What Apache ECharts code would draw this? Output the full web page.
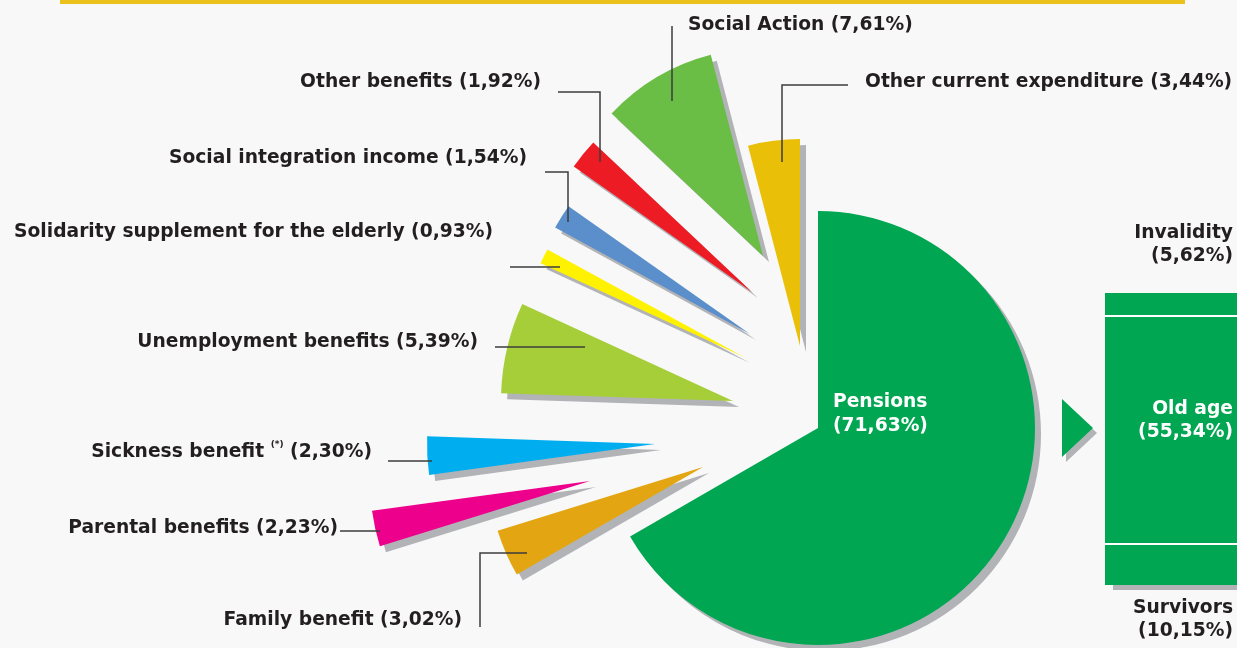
<!DOCTYPE html>
<html>
<head>
<meta charset="utf-8">
<script src="https://cdn.jsdelivr.net/npm/echarts@6/dist/echarts.min.js"></script>
<style>
html,body{margin:0;padding:0;background:#f8f8f8;}
#c{width:1237px;height:648px;}
</style>
</head>
<body>
<div id="c"></div>
<script>
// ---------- DATA ----------
const sliceNames = ['Family benefit', 'Parental benefits', 'Sickness benefit', 'Unemployment benefits',
  'Solidarity supplement for the elderly', 'Social integration income', 'Other benefits',
  'Social Action', 'Other current expenditure'];
const sliceValues = [3.02, 2.23, 2.30, 5.39, 0.93, 1.54, 1.92, 7.61, 3.44];
const sliceNotes = ['', '', '(*)', '', '', '', '', '', ''];
const pensionName = 'Pensions';
const pensionValue = 71.63;
const pensionPartNames = ['Invalidity', 'Old age', 'Survivors'];
const pensionPartValues = [5.62, 55.34, 10.15];

// ---------- STYLE / LAYOUT ----------
const sliceColors = ['#E3A612', '#EC008C', '#00AEEF', '#A6CE39', '#FFF200', '#5B8FCB', '#ED1C24', '#6ABD45', '#E9BF08'];
const GREEN = '#00A651';
const TXT = '#231f20';
const FONT = 'DejaVu Sans';
const FS = 18.7;
const pieCenter = [818, 428];
const pensionRadius = 217;
// explode offsets of every small slice from the pie centre (layout)
const explode = [[-115, 39], [-228, 53], [-163, 16], [-85, -27], [-74, -71], [-68, -94], [-66, -136], [-55, -172], [-18, -82]];
const sliceRadius = [215, 220, 228, 232, 224, 222, 218, 208, 207];
const labelSpec = [
  {x: 462, y: 620, align: 'right', line: [[527, 553], [480, 553], [480, 627]]},
  {x: 338, y: 528, align: 'right', line: [[380, 531], [360, 531], [340, 531]]},
  {x: 372, y: 452, align: 'right', line: [[432, 461], [410, 461], [388, 461]]},
  {x: 478, y: 342, align: 'right', line: [[585, 347], [540, 347], [495, 347]]},
  {x: 493, y: 232, align: 'right', line: [[560, 267], [535, 267], [510, 267]]},
  {x: 527, y: 158, align: 'right', line: [[568, 222], [568, 172], [545, 172]]},
  {x: 541, y: 82, align: 'right', line: [[600, 162], [600, 92], [558, 92]]},
  {x: 688, y: 25, align: 'left', line: [[672, 101], [672, 26], [672, 26]]},
  {x: 865, y: 82, align: 'left', line: [[782, 162], [782, 85], [848, 85]]}
];
const barLabelY = [245, 421, 620];
const barLabelColor = [TXT, '#ffffff', TXT];

const shadow = {shadowColor: '#b2b3b7', shadowBlur: 0, shadowOffsetX: 6, shadowOffsetY: 6};
const fmt = v => v.toFixed(2).replace('.', ',');
const NONE = 'rgba(0,0,0,0)';

const chart = echarts.init(document.getElementById('c'), null, {renderer: 'canvas'});

const series = [];
const pieCommon = {type: 'pie', clockwise: true, silent: true, selectedMode: false, animation: false,
  emphasis: {disabled: true}, avoidLabelOverlap: false};

// Pensions slice
series.push(Object.assign({}, pieCommon, {
  center: pieCenter, radius: [0, pensionRadius],
  startAngle: 90, endAngle: -150,
  itemStyle: Object.assign({color: GREEN, borderWidth: 0}, shadow),
  data: [{name: pensionName, value: pensionValue}],
  label: {show: true, position: 'inside', overflow: 'none',
    formatter: p => p.name + '\n(' + fmt(p.value) + '%)',
    color: '#ffffff', fontFamily: FONT, fontWeight: 'bold', fontSize: FS, lineHeight: 24},
  labelLine: {show: false},
  labelLayout: {x: 833, y: 414, align: 'left', verticalAlign: 'middle'}
}));

// Small slices: each in its own exploded pie (same angular scale), only one visible
sliceNames.forEach((nm, i) => {
  series.push(Object.assign({}, pieCommon, {
    center: [pieCenter[0] + explode[i][0], pieCenter[1] + explode[i][1]],
    radius: [0, sliceRadius[i]],
    startAngle: 210, endAngle: 90, z: 2,
    data: sliceNames.map((n, j) => ({
      name: n, value: sliceValues[j],
      itemStyle: j === i ? Object.assign({color: sliceColors[j], borderWidth: 0}, shadow)
                         : {color: NONE, borderWidth: 0}
    })),
    label: {show: false},
    labelLine: {show: false}
  }));
});

// Labels + leader lines of the small slices, drawn above the slices
series.push(Object.assign({}, pieCommon, {
  center: pieCenter, radius: [0, 150], startAngle: 210, endAngle: 90, z: 5,
  data: sliceNames.map((n, j) => ({name: n, value: sliceValues[j]})),
  itemStyle: {color: NONE, borderWidth: 0},
  label: {
    show: true, position: 'outside', overflow: 'none',
    formatter: p => {
      const note = sliceNotes[p.dataIndex] ? ' {sup|' + sliceNotes[p.dataIndex] + '}' : '';
      return p.name + note + ' (' + fmt(p.value) + '%)';
    },
    color: TXT, fontFamily: FONT, fontWeight: 'bold', fontSize: FS, lineHeight: 24,
    rich: {sup: {fontSize: 9, fontFamily: FONT, fontWeight: 'bold', color: TXT, verticalAlign: 'top', lineHeight: 14}}
  },
  labelLine: {show: true, lineStyle: {color: '#3c3c3c', width: 1.5}},
  labelLayout: params => {
    const s = labelSpec[params.dataIndex];
    return {x: s.x, y: s.y, align: s.align, verticalAlign: 'middle', labelLinePoints: s.line};
  }
}));

// Pensions breakdown: stacked bar (bottom to top: Survivors, Old age, Invalidity)
const partTotal = pensionPartValues.reduce((a, b) => a + b, 0);
const cut1 = pensionPartValues[2];
const cut2 = pensionPartValues[2] + pensionPartValues[1];
[2, 1, 0].forEach(k => {
  const s = {
    type: 'bar', stack: 'pens', name: pensionPartNames[k], barWidth: '100%',
    silent: true, animation: false, z: 2,
    data: [pensionPartValues[k]],
    itemStyle: Object.assign({color: GREEN, borderWidth: 0},
      k === 2 ? {shadowColor: '#b2b3b7', shadowBlur: 0, shadowOffsetX: 8, shadowOffsetY: 5} : {}),
    label: {show: true, position: 'inside', overflow: 'none',
      formatter: p => p.seriesName + '\n(' + fmt(p.value) + '%)',
      color: barLabelColor[k], fontFamily: FONT, fontWeight: 'bold', fontSize: FS, lineHeight: 23, align: 'right'},
    labelLayout: {x: 1233, y: barLabelY[k], align: 'right', verticalAlign: 'middle'}
  };
  if (k === 0) {
    s.markLine = {silent: true, symbol: 'none', animation: false, z: 6,
      label: {show: false},
      lineStyle: {color: '#ffffff', width: 2, type: 'solid'},
      data: [{yAxis: cut1}, {yAxis: cut2}]};
  }
  series.push(s);
});

chart.setOption({
  backgroundColor: '#f8f8f8',
  animation: false,
  grid: {left: 1105, right: 0, top: 293, bottom: 63},
  xAxis: {type: 'category', data: [pensionName], show: false},
  yAxis: {type: 'value', min: 0, max: partTotal, show: false},
  graphic: [
    {type: 'rect', shape: {x: 60, y: 0, width: 1125, height: 4}, style: {fill: '#EBC21C'}, silent: true},
    {type: 'polygon', shape: {points: [[1062, 399], [1062, 457], [1093, 428]]},
     style: {fill: GREEN, shadowColor: '#b2b3b7', shadowBlur: 0, shadowOffsetX: 4, shadowOffsetY: 5}, silent: true}
  ],
  series: series
});
</script>
</body>
</html>
